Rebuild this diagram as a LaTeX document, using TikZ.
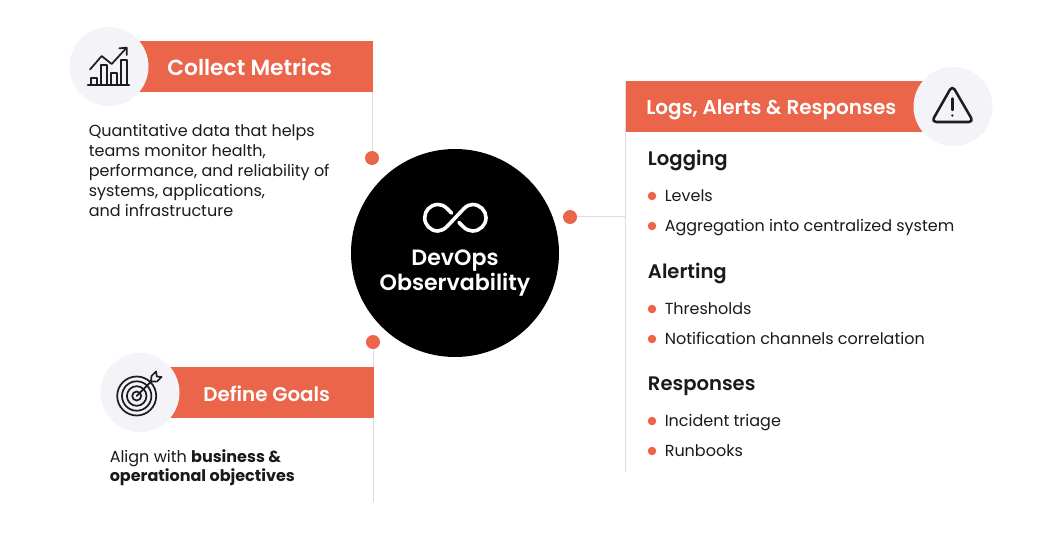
\documentclass[tikz,border=0pt]{standalone}
\usepackage{fontspec}
\setmainfont{Poppins}
\newfontfamily\pmed{Poppins Medium}
\newfontfamily\psemi{Poppins SemiBold}
\newfontfamily\pbold{Poppins Bold}
\definecolor{accent}{HTML}{EA6549}
\definecolor{halo}{HTML}{F3F3F8}
\definecolor{rulegray}{HTML}{DDDDDD}
\definecolor{ink}{HTML}{1A1A1A}
\definecolor{iconink}{HTML}{1C1C24}
\tikzset{
  bar/.style={fill=accent,draw=none,anchor=north west,inner sep=0pt,minimum height=38.25pt},
  halocircle/.style={circle,fill=halo,draw=none,minimum size=59.25pt,inner sep=0pt},
  dot/.style={circle,fill=accent,draw=none,minimum size=10.5pt,inner sep=0pt},
  rulec/.style={draw=rulegray,line width=0.75pt},
  bartitle/.style={text=white,anchor=base west,inner sep=0pt,font=\psemi\fontsize{16.4}{18}\selectfont},
  bodytext/.style={text=ink,anchor=base west,inner sep=0pt,align=left,font=\fontsize{12}{15}\selectfont},
  headtext/.style={text=ink,anchor=base west,inner sep=0pt,font=\psemi\fontsize{14.7}{18}\selectfont},
  bullet/.style={circle,fill=accent,draw=none,minimum size=6.4pt,inner sep=0pt},
  icon/.style={draw=iconink,line width=1.3pt,fill=none,line join=round,line cap=round},
  infi/.style={draw=white,line width=2.7pt,line cap=round,line join=round},
}
\begin{document}
\begin{tikzpicture}[x=0.75pt,y=-0.75pt]
\useasboundingbox (0,0) rectangle (1060,550);
% centre
\node[circle,fill=black,minimum size=156pt,inner sep=0pt] (hub) at (455,253) {};
% dots and junctions
\node[dot] (d1) at (372,158) {};
\node[dot] (d2) at (373,342) {};
\node[dot] (d3) at (570,217) {};
\coordinate (e2) at (373.5,502);
\coordinate (e3a) at (625.5,81);
\coordinate (e3b) at (625.5,472);
\coordinate (j3) at (625.5,216.3);
\coordinate (t1) at (372.5,41);
\draw[rulec] (t1) -- (t1 |- d1.north);
\draw[rulec] (d2.south -| e2) -- (e2);
\draw[rulec] (e3a) -- (e3b);
\draw[rulec] (d3.east |- j3) -- (j3);
% bars
\node[bar,minimum width=175pt] (b1) at (139,41) {};
\node[bar,minimum width=153pt] (b2) at (170,367) {};
\node[bar,minimum width=268pt] (b3) at (626,81) {};
\node[halocircle] (c1) at (109,66.5) {};
\node[halocircle] (c2) at (140,392.5) {};
\node[halocircle] (c3) at (953,106.5) {};
% titles
\node[bartitle] (tt1) at (167,75) {Collect Metrics};
\node[bartitle,font=\psemi\fontsize{14.9}{18}\selectfont] (tt2) at (203,401) {Define Goals};
\node[bartitle,font=\psemi\fontsize{15}{18}\selectfont] (tt3) at (646,114) {Logs, Alerts \& Responses};
% left texts
\node[bodytext] (q1) at (88.5,216) {Quantitative data that helps\\teams monitor health,\\performance, and reliability of\\systems, applications,\\and infrastructure};
\node[bodytext,font=\fontsize{12}{14.25}\selectfont] (q2) at (109.5,481.5) {Align with {\pbold business \&}\\{\pbold operational objectives}};
% hub text
\node[text=white,align=center,inner sep=0pt,font=\psemi\fontsize{16.6}{19}\selectfont] (hubt) at (455,273) {DevOps\\Observability};
% infinity
\draw[infi] (447.5,226) -- (464,208.5) .. controls (467,205.5) and (470,204.5) .. (472.5,204.5) .. controls (480,204.5) and (486,210.5) .. (486,217.7) .. controls (486,225) and (480,231) .. (472.5,231) .. controls (469,231) and (466,229.5) .. (463,226.5) -- (459,222.5);
\draw[infi] (451.5,213) -- (447,208.5) .. controls (444,205.5) and (441,204.5) .. (438,204.5) .. controls (430.5,204.5) and (424.7,210.5) .. (424.7,217.7) .. controls (424.7,225) and (430.5,231) .. (438,231) .. controls (441.5,231) and (444.5,229) .. (447.5,226);
% right block
\node[headtext] (h1) at (647.7,165) {Logging};
\node[bullet] (p1) at (652,196) {};
\node[bodytext] (l1) at (664.5,201.5) {Levels};
\node[bullet] (p2) at (652,226) {};
\node[bodytext] (l2) at (664.5,231.5) {Aggregation into centralized system};
\node[headtext] (h2) at (647.7,278) {Alerting};
\node[bullet] (p3) at (652,309) {};
\node[bodytext] (l3) at (664.5,314.5) {Thresholds};
\node[bullet] (p4) at (652,339) {};
\node[bodytext] (l4) at (664.5,344.5) {Notification channels correlation};
\node[headtext] (h3) at (647.7,390) {Responses};
\node[bullet] (p5) at (652,421) {};
\node[bodytext] (l5) at (664.5,426.5) {Incident triage};
\node[bullet] (p6) at (652,451) {};
\node[bodytext] (l6) at (664.5,456.5) {Runbooks};
% chart icon
\draw[icon,line width=1.6pt] (88,85) -- (129,85);
\draw[icon] (90.7,85) -- (90.7,78) -- (96.7,78) -- (96.7,85);
\draw[icon] (100.7,85) -- (100.7,65) -- (106.7,65) -- (106.7,85);
\draw[icon] (110.7,85) -- (110.7,73) -- (116.7,73) -- (116.7,85);
\draw[icon] (120.7,85) -- (120.7,60) -- (126.7,60) -- (126.7,85);
\draw[icon] (90,69.5) -- (101.7,56) -- (111.7,64) -- (126.3,48);
\draw[icon] (119.3,48.3) -- (126.7,47.7) -- (126.7,55);
% target icon
\draw[icon] (136.7,396) circle (19.5);
\draw[icon] (136.7,396) circle (14.7);
\draw[icon] (136.7,396) circle (9.8);
\draw[icon] (136.7,396) circle (4.5);
\draw[icon] (136.7,396) -- (153,379.5);
\draw[icon,fill=halo] (151,381.5) -- (151.5,376) -- (156,371.5) -- (156.8,376.5) -- (161.5,377) -- (157,381.5) -- cycle;
% warning icon
\draw[icon,line width=1.9pt,rounded corners=3.5pt] (952.3,85.5) -- (973.5,122) -- (931.5,122) -- cycle;
\draw[icon,line width=1.8pt] (952.3,98.5) -- (952.3,110);
\fill[iconink] (952.3,115.5) circle (1.3);
\end{tikzpicture}
\end{document}
